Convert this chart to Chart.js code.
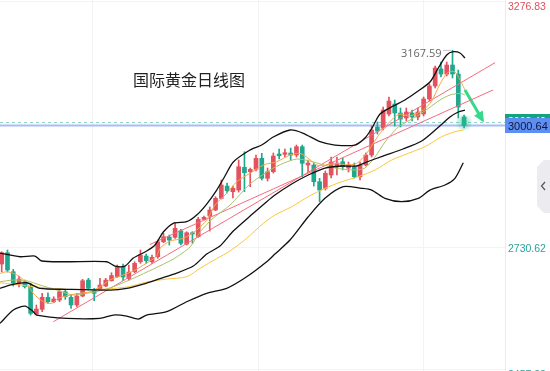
<!DOCTYPE html>
<html>
<head>
<meta charset="utf-8">
<script src="https://cdn.jsdelivr.net/npm/chart.js@4.4.1/dist/chart.umd.min.js"></script>
<style>
  html, body { margin: 0; padding: 0; background: #fff; }
  #wrap { position: relative; width: 550px; height: 371px; }
</style>
</head>
<body>
<div id="wrap"><canvas id="goldChart" width="550" height="371"></canvas></div>
<script>
// daily candles, index 0 = oldest
var opens = [2692.8, 2717.9, 2675.7, 2648.3, 2653.4, 2642.4, 2581.7, 2592.1, 2618.8, 2609.0,
  2612.8, 2631.2, 2618.8, 2601.7, 2621.7, 2657.2, 2635.0, 2635.0, 2643.9, 2655.7,
  2665.0, 2686.8, 2660.6, 2675.7, 2697.9, 2710.6, 2697.9, 2709.0, 2742.3, 2752.8,
  2752.1, 2766.8, 2737.2, 2762.3, 2753.5, 2792.1, 2799.5, 2812.8, 2838.8, 2866.1,
  2853.5, 2857.2, 2907.7, 2897.9, 2903.3, 2927.7, 2883.3, 2897.9, 2937.2, 2936.6,
  2939.5, 2935.0, 2953.5, 2912.8, 2912.8, 2875.7, 2861.0, 2890.6, 2908.4, 2920.1,
  2906.1, 2909.0, 2886.8, 2912.8, 2935.0, 2997.3, 2995.0, 3026.2, 3048.4, 3028.4,
  3017.3, 3028.4, 3019.5, 3026.2, 3059.5, 3088.4, 3126.2, 3115.0, 3135.0, 3115.0,
  3019.5];
var highs = [2720.1, 2723.9, 2681.0, 2666.1, 2657.2, 2649.9, 2601.7, 2627.7, 2629.0, 2620.1,
  2635.0, 2636.6, 2623.9, 2627.7, 2658.8, 2661.0, 2638.8, 2661.0, 2661.0, 2673.4,
  2690.6, 2692.8, 2690.6, 2697.9, 2723.9, 2715.0, 2712.8, 2746.1, 2761.0, 2757.2,
  2784.6, 2769.9, 2764.6, 2764.6, 2796.6, 2799.5, 2819.5, 2842.4, 2879.5, 2872.8,
  2866.1, 2923.9, 2942.4, 2906.1, 2935.0, 2938.8, 2906.1, 2939.5, 2948.4, 2948.4,
  2950.6, 2957.2, 2957.2, 2923.9, 2917.2, 2883.3, 2899.5, 2930.6, 2930.6, 2928.4,
  2919.5, 2917.2, 2919.5, 2939.5, 2999.5, 3008.4, 3041.7, 3063.9, 3057.3, 3039.5,
  3039.5, 3035.0, 3039.5, 3063.9, 3092.8, 3132.8, 3141.7, 3141.7, 3167.59, 3123.9,
  3023.9];
var lows = [2675.7, 2675.0, 2643.9, 2641.7, 2639.5, 2579.4, 2579.4, 2586.8, 2605.4, 2606.8,
  2609.0, 2614.3, 2594.3, 2597.9, 2620.1, 2635.0, 2611.2, 2633.5, 2642.4, 2655.0,
  2663.2, 2656.1, 2657.2, 2673.4, 2694.3, 2694.3, 2694.3, 2705.5, 2740.1, 2735.0,
  2749.9, 2735.0, 2735.0, 2738.8, 2752.1, 2790.6, 2766.1, 2811.3, 2837.2, 2850.6,
  2839.5, 2852.8, 2853.5, 2864.6, 2899.5, 2879.5, 2877.2, 2895.0, 2926.1, 2930.6,
  2923.9, 2930.6, 2886.8, 2897.2, 2866.1, 2831.3, 2857.2, 2883.9, 2890.6, 2901.7,
  2897.2, 2883.9, 2879.5, 2910.6, 2930.6, 2981.7, 2990.6, 3021.7, 2999.5, 2997.3,
  3010.6, 3010.6, 3012.8, 3021.7, 3055.0, 3083.9, 3108.4, 3110.6, 3106.2, 3017.3,
  2995.0];
var closes = [2717.9, 2679.5, 2649.9, 2659.4, 2642.4, 2583.2, 2592.8, 2618.8, 2609.0, 2615.0,
  2631.2, 2620.1, 2601.7, 2621.7, 2655.7, 2638.8, 2627.7, 2646.1, 2657.2, 2667.2,
  2686.1, 2663.9, 2675.0, 2694.3, 2712.8, 2700.1, 2707.7, 2742.3, 2753.5, 2746.1,
  2772.1, 2738.8, 2762.3, 2759.5, 2792.1, 2796.6, 2812.8, 2838.8, 2868.4, 2855.7,
  2861.0, 2909.0, 2895.7, 2903.3, 2927.7, 2883.3, 2897.9, 2932.8, 2933.5, 2940.1,
  2935.0, 2953.5, 2916.6, 2917.2, 2875.7, 2857.2, 2894.4, 2919.5, 2917.2, 2909.0,
  2912.8, 2886.8, 2912.8, 2935.0, 2990.6, 2988.4, 3035.0, 3055.0, 3028.4, 3015.0,
  3030.6, 3019.5, 3030.6, 3059.5, 3088.4, 3128.4, 3115.0, 3135.0, 3115.0, 3041.7,
  3000.64];

// indicator lines: [candle index, price]
var bollUpper = [[-0.29, 2717.2], [3.17, 2709.0], [5.76, 2710.6], [6.92, 2699.5], [11.25, 2697.9],
  [18.17, 2697.9], [19.6, 2688.3], [21.33, 2688.3], [22.77, 2706.1], [25.09, 2721.7],
  [26.52, 2735.0], [27.96, 2763.9], [29.69, 2783.2], [32.01, 2786.8], [33.74, 2801.7],
  [35.47, 2826.1], [37.2, 2857.2], [38.63, 2888.4], [40.07, 2919.5], [42.96, 2946.1],
  [44.98, 2957.2], [46.99, 2975.0], [49.88, 2990.6], [52.18, 2983.3], [55.07, 2964.6],
  [57.66, 2957.2], [61.13, 2957.2], [62.85, 2972.8], [64.07, 2995.0], [65.46, 3026.1],
  [67.75, 3043.9], [69.77, 3057.3], [71.8, 3075.0], [74.1, 3097.3], [75.54, 3128.4],
  [76.99, 3157.3], [78.13, 3164.6], [79.29, 3161.7], [80.15, 3150.6]];
var bollMid = [[-0.29, 2638.8], [1.44, 2646.1], [4.33, 2651.2], [6.63, 2638.8], [11.25, 2636.6],
  [18.74, 2635.0], [21.63, 2638.8], [24.5, 2648.3], [27.39, 2660.5], [30.28, 2672.8],
  [33.15, 2688.3], [35.47, 2715.0], [37.77, 2732.8], [40.07, 2766.1], [43.53, 2805.5],
  [45.85, 2831.3], [47.28, 2846.1], [50.17, 2870.6], [53.04, 2890.6], [55.93, 2906.1],
  [58.82, 2910.6], [61.42, 2910.6], [63.15, 2919.5], [65.97, 2932.8], [69.43, 2948.4],
  [72.66, 2966.1], [75.31, 2993.9], [77.56, 3019.5], [79.0, 3030.6], [80.15, 3035.0]];
var bollLower = [[-0.29, 2561.0], [2.01, 2590.6], [4.03, 2599.4], [5.47, 2586.8], [6.06, 2579.4],
  [11.25, 2572.1], [17.01, 2572.1], [19.31, 2579.4], [21.63, 2577.2], [23.63, 2570.5],
  [25.09, 2579.4], [28.55, 2586.8], [32.01, 2609.0], [35.47, 2627.7], [38.93, 2638.8],
  [42.39, 2664.5], [45.85, 2697.9], [47.28, 2715.0], [49.88, 2746.1], [53.04, 2797.9],
  [55.93, 2838.8], [59.1, 2864.6], [62.28, 2861.0], [64.01, 2857.2], [66.31, 2838.8],
  [69.2, 2831.3], [72.08, 2838.8], [74.1, 2857.2], [76.69, 2868.4], [78.42, 2883.3],
  [79.86, 2917.9]];
var ma5 = [[-0.29, 2672.1], [0.87, 2675.7], [2.01, 2672.1], [3.17, 2664.5], [4.33, 2649.9],
  [5.47, 2627.7], [7.2, 2609.0], [8.65, 2605.4], [9.79, 2616.5], [11.82, 2623.9],
  [13.55, 2627.7], [15.28, 2631.2], [17.01, 2642.4], [18.74, 2657.2], [20.47, 2666.1],
  [22.77, 2677.2], [25.09, 2695.0], [26.82, 2710.6], [27.39, 2727.7], [29.12, 2743.9],
  [31.42, 2749.9], [33.74, 2768.3], [35.47, 2790.6], [36.9, 2823.9], [38.93, 2849.9],
  [40.66, 2875.7], [42.96, 2894.4], [45.26, 2912.8], [47.58, 2920.1], [49.88, 2935.0],
  [51.61, 2938.8], [53.04, 2927.7], [54.5, 2912.8], [56.23, 2912.8], [57.96, 2916.6],
  [59.69, 2912.8], [61.42, 2916.6], [63.15, 2938.8], [64.88, 2972.8], [66.31, 2997.3],
  [67.75, 3016.6], [68.91, 3026.1], [70.64, 3021.7], [72.94, 3035.0], [74.39, 3055.0],
  [75.83, 3092.8], [77.26, 3119.5], [78.42, 3119.5], [79.58, 3095.0], [80.15, 3079.5]];
var ma10 = [[-0.29, 2653.4], [2.01, 2657.2], [4.33, 2655.7], [6.63, 2646.1], [9.52, 2635.0],
  [12.39, 2623.9], [14.71, 2627.7], [17.01, 2633.5], [19.31, 2642.4], [22.77, 2661.0],
  [26.23, 2681.7], [29.69, 2703.9], [32.58, 2730.6], [34.31, 2763.9], [36.61, 2795.0],
  [39.5, 2823.9], [42.96, 2870.6], [46.42, 2901.7], [48.72, 2916.6], [51.04, 2926.1],
  [53.34, 2921.7], [57.66, 2906.1], [61.13, 2901.7], [62.85, 2906.1], [64.59, 2930.6],
  [66.31, 2963.9], [68.62, 2997.3], [70.64, 3012.8], [72.94, 3030.6], [75.83, 3057.3],
  [77.56, 3068.4], [79.29, 3072.2], [80.15, 3068.4]];
var ma30 = [[-0.29, 2651.2], [3.17, 2646.1], [5.47, 2642.4], [11.25, 2636.6], [17.01, 2636.6],
  [21.63, 2641.7], [25.09, 2652.8], [28.55, 2659.4], [32.01, 2664.5], [34.31, 2683.2],
  [37.2, 2705.0], [39.5, 2721.7], [42.39, 2749.9], [45.26, 2783.2], [47.28, 2801.7],
  [50.17, 2820.1], [53.04, 2842.4], [55.93, 2861.0], [58.82, 2875.7], [61.69, 2886.8],
  [64.59, 2901.7], [67.47, 2923.9], [70.35, 2938.8], [73.24, 2953.5], [76.12, 2975.7],
  [78.42, 2986.8], [79.86, 2990.6]];
// hand drawn trend lines and arrow
var trendA = [[8.93, 2564.6], [85.35, 3140.2]];
var trendB = [[25.66, 2736.3], [85.0, 3079.5]];
var arrowPath = [[80.15, 3079.5], [83.18, 3012.8]];

var lastPrice = 3000.64;
var bidPrice = 3008.4;
var axisLabels = [3276.83, 2730.62, 2457.33];
var gridIdx = [15.73, 44.45, 72.98];

var RED = '#e2535f', GREEN = '#1fa88e';

function pts(arr) { return arr.map(function (p) { return {x: p[0], y: p[1]}; }); }
function lineSet(arr, color, width) {
    return {type: 'line', data: pts(arr), borderColor: color, borderWidth: width,
        pointRadius: 0, tension: 0.25, fill: false, order: -1};
}

var candleColors = opens.map(function (o, i) { return closes[i] >= o ? RED : GREEN; });

var overlay = {
    id: 'overlay',
    beforeDatasetsDraw: function (chart) {
        var ctx = chart.ctx, ys = chart.scales.y, a = chart.chartArea;
        ctx.save();
        ctx.strokeStyle = '#8fd3c4';
        ctx.lineWidth = 1;
        ctx.setLineDash([3, 3]);
        var yb = Math.round(ys.getPixelForValue(bidPrice)) + 0.5;
        ctx.beginPath(); ctx.moveTo(a.left, yb); ctx.lineTo(a.right, yb); ctx.stroke();
        ctx.setLineDash([]);
        ctx.strokeStyle = '#a9bcf7';
        ctx.lineWidth = 2;
        var yl = ys.getPixelForValue(lastPrice);
        ctx.beginPath(); ctx.moveTo(a.left, yl); ctx.lineTo(a.right, yl); ctx.stroke();
        ctx.restore();
    },
    afterDatasetsDraw: function (chart) {
        var ctx = chart.ctx, xs = chart.scales.x, ys = chart.scales.y, a = chart.chartArea;
        ctx.save();
        // arrow head
        var p0x = xs.getPixelForValue(arrowPath[0][0]), p0y = ys.getPixelForValue(arrowPath[0][1]);
        var p1x = xs.getPixelForValue(arrowPath[1][0]), p1y = ys.getPixelForValue(arrowPath[1][1]);
        var ang = Math.atan2(p1y - p0y, p1x - p0x);
        ctx.fillStyle = '#35d98a';
        ctx.beginPath();
        ctx.moveTo(p1x + 3 * Math.cos(ang), p1y + 3 * Math.sin(ang));
        ctx.lineTo(p1x - 8 * Math.cos(ang) + 5 * Math.sin(ang), p1y - 8 * Math.sin(ang) - 5 * Math.cos(ang));
        ctx.lineTo(p1x - 8 * Math.cos(ang) - 5 * Math.sin(ang), p1y - 8 * Math.sin(ang) + 5 * Math.cos(ang));
        ctx.closePath(); ctx.fill();

        // glow on last candle
        var n = closes.length - 1;
        var gx = xs.getPixelForValue(n), gy = ys.getPixelForValue(closes[n]) - 3;
        var g = ctx.createRadialGradient(gx, gy, 1, gx, gy, 9);
        g.addColorStop(0, 'rgba(40,190,140,0.55)');
        g.addColorStop(1, 'rgba(40,190,140,0)');
        ctx.fillStyle = g;
        ctx.beginPath(); ctx.arc(gx, gy, 9, 0, Math.PI * 2); ctx.fill();

        // title
        ctx.fillStyle = '#222';
        ctx.font = '16px "Noto Sans CJK SC", sans-serif';
        ctx.textBaseline = 'middle';
        ctx.textAlign = 'left';
        ctx.fillText('国际黄金日线图', 133, 80);

        // high marker
        var hi = 78;
        var hx = xs.getPixelForValue(hi), hy = ys.getPixelForValue(highs[hi]);
        ctx.font = '11px "Open Sans", sans-serif';
        ctx.fillStyle = '#666';
        ctx.textAlign = 'right';
        ctx.fillText(highs[hi].toFixed(2), hx - 11, hy + 3);
        ctx.fillStyle = '#888';
        for (var k = 0; k < 4; k++) { ctx.fillRect(hx - 9 + k * 2, hy - 0.5, 1, 1); }

        // right axis labels
        var rx = a.right + 3;
        ctx.textAlign = 'left';
        ctx.font = '10.5px "Liberation Sans", Arial, sans-serif';
        ctx.fillStyle = '#e0505e';
        ctx.fillText(axisLabels[0].toFixed(2), rx, Math.max(7.5, ys.getPixelForValue(axisLabels[0])));
        ctx.fillStyle = '#26a69a';
        ctx.fillText(axisLabels[1].toFixed(2), rx, ys.getPixelForValue(axisLabels[1]) + 2);
        ctx.fillText(axisLabels[2].toFixed(2), rx, ys.getPixelForValue(axisLabels[2]) + 5);

        var yb = ys.getPixelForValue(bidPrice);
        ctx.fillStyle = '#14a37f';
        ctx.fillRect(a.right, yb - 8, 45, 15);
        ctx.fillStyle = '#fff';
        ctx.fillText(bidPrice.toFixed(2), rx, yb);
        var yl = ys.getPixelForValue(lastPrice);
        ctx.fillStyle = '#5d8ff2';
        ctx.fillRect(a.right, yl - 7.5, 45, 15);
        ctx.fillStyle = '#15153a';
        ctx.font = '11px "Liberation Sans", Arial, sans-serif';
        ctx.fillText(lastPrice.toFixed(2), rx, yl + 1);

        // collapse tab
        ctx.fillStyle = '#ececf0';
        ctx.beginPath();
        ctx.moveTo(550, 160); ctx.lineTo(544, 160); ctx.lineTo(537, 167);
        ctx.lineTo(537, 206); ctx.lineTo(544, 213); ctx.lineTo(550, 213);
        ctx.closePath(); ctx.fill();
        ctx.strokeStyle = '#555';
        ctx.lineWidth = 1.2;
        ctx.beginPath(); ctx.moveTo(545, 182); ctx.lineTo(541.5, 186); ctx.lineTo(545, 190); ctx.stroke();
        ctx.restore();
    }
};

new Chart(document.getElementById('goldChart').getContext('2d'), {
    type: 'bar',
    data: {
        datasets: [
            lineSet(bollUpper, '#111', 1.3),
            lineSet(bollMid, '#111', 1.3),
            lineSet(bollLower, '#111', 1.3),
            lineSet(ma5, '#f6a548', 1),
            lineSet(ma10, '#a9c267', 1),
            lineSet(ma30, '#f8c83a', 1),
            lineSet(trendA, '#f46b7b', 1),
            lineSet(trendB, '#f46b7b', 1),
            Object.assign(lineSet(arrowPath, '#35d98a', 3), {tension: 0}),
            {
                data: opens.map(function (o, i) { return {x: i, y: [o, closes[i]]}; }),
                backgroundColor: candleColors,
                barThickness: 4,
                minBarLength: 1,
                grouped: false,
                order: 1
            },
            {
                data: lows.map(function (l, i) { return {x: i, y: [l, highs[i]]}; }),
                backgroundColor: candleColors,
                barThickness: 1,
                grouped: false,
                order: 2
            }
        ]
    },
    options: {
        responsive: false,
        animation: false,
        layout: {padding: 0},
        plugins: {legend: {display: false}, tooltip: {enabled: false}},
        scales: {
            x: {
                type: 'linear', min: -0.294, max: 87.08, offset: false,
                grid: {color: '#f3f3f5', offset: false, drawTicks: false},
                border: {display: false},
                ticks: {display: false},
                afterBuildTicks: function (s) { s.ticks = gridIdx.map(function (v) { return {value: v}; }); },
                afterFit: function (s) { s.height = 0; }
            },
            y: {
                type: 'linear', position: 'right', min: 2455.1, max: 3279.5, beginAtZero: false,
                grid: {color: '#f3f3f5', drawTicks: false},
                border: {display: true, color: '#ececec'},
                ticks: {display: false},
                afterBuildTicks: function (s) { s.ticks = axisLabels.map(function (v) { return {value: v}; }); },
                afterFit: function (s) { s.width = 45; }
            }
        }
    },
    plugins: [overlay]
});
</script>
</body>
</html>
